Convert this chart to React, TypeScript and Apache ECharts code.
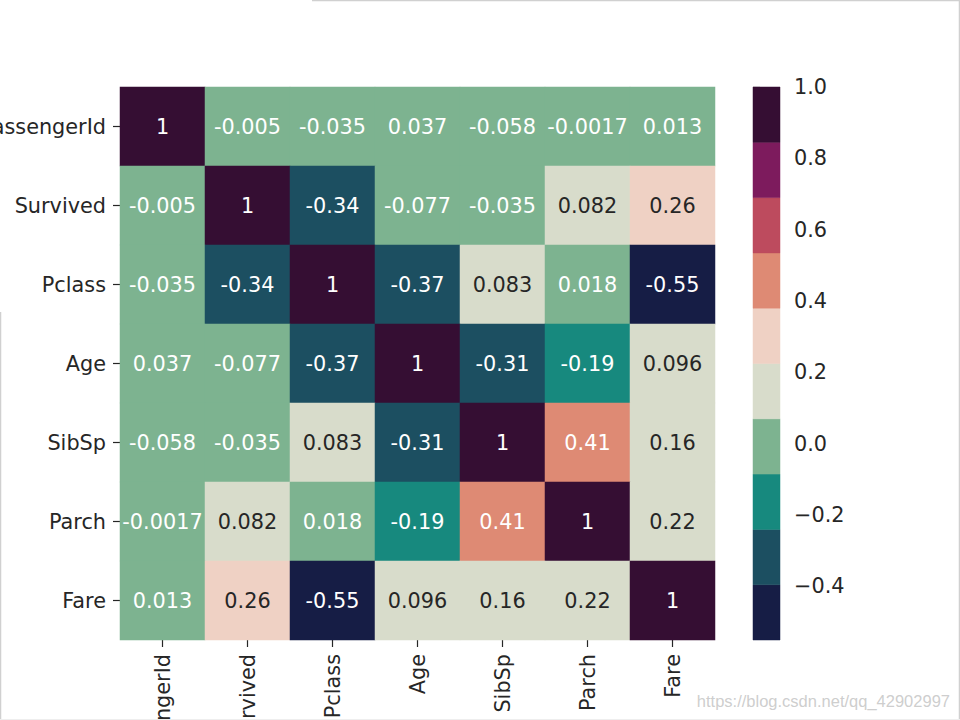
import React, { useEffect, useRef } from "react";
import * as echarts from "echarts";

const labels = ["PassengerId", "Survived", "Pclass", "Age", "SibSp", "Parch", "Fare"];

const rowPassengerId = [1, -0.005, -0.035, 0.037, -0.058, -0.0017, 0.013];
const rowSurvived = [-0.005, 1, -0.34, -0.077, -0.035, 0.082, 0.26];
const rowPclass = [-0.035, -0.34, 1, -0.37, 0.083, 0.018, -0.55];
const rowAge = [0.037, -0.077, -0.37, 1, -0.31, -0.19, 0.096];
const rowSibSp = [-0.058, -0.035, 0.083, -0.31, 1, 0.41, 0.16];
const rowParch = [-0.0017, 0.082, 0.018, -0.19, 0.41, 1, 0.22];
const rowFare = [0.013, 0.26, -0.55, 0.096, 0.16, 0.22, 1];

const matrix = [rowPassengerId, rowSurvived, rowPclass, rowAge, rowSibSp, rowParch, rowFare];

const colorbarMin = -0.55;
const colorbarMax = 1.0;
const binColors = [
  "#161d45",
  "#1c4f61",
  "#17897e",
  "#7db390",
  "#d8dccb",
  "#efd1c4",
  "#de8a74",
  "#bd4b5e",
  "#7d1b5d",
  "#350e33",
];
const darkTextBins = [4, 5];
const colorbarTicks = [-0.4, -0.2, 0.0, 0.2, 0.4, 0.6, 0.8, 1.0];
const watermark = "https://blog.csdn.net/qq_42902997";

const FONT = "DejaVu Sans";
const FS = 20.8;
const TEXT = "#262626";

export default function App() {
  const ref = useRef<HTMLDivElement>(null);

  useEffect(() => {
    if (!ref.current) return;
    const chart = echarts.init(ref.current, undefined, { renderer: "svg" });
    const n = binColors.length;
    const step = (colorbarMax - colorbarMin) / n;
    const edges = binColors.map((_, i) => colorbarMin + i * step);
    const binOf = (v: number) => {
      let k = Math.floor((v - colorbarMin) / step);
      if (k < 0) k = 0;
      if (k > n - 1) k = n - 1;
      return k;
    };

    const heatData: any[] = [];
    matrix.forEach((row, r) => {
      row.forEach((v, c) => {
        const b = binOf(v);
        heatData.push({
          value: [c, r, v, b],
          label: { color: darkTextBins.includes(b) ? TEXT : "#ffffff" },
        });
      });
    });

    const pieces = binColors.map((col, i) => ({ value: i, color: col }));

    const barData = binColors.map((col, i) => [edges[i], i === n - 1 ? colorbarMax : edges[i] + step, i]);

    chart.setOption({
      animation: false,
      backgroundColor: "#ffffff",
      textStyle: { fontFamily: FONT },
      grid: [
        { left: 120, top: 87, width: 595, height: 553, containLabel: false, outerBoundsMode: "none" },
        { left: 753, top: 87, width: 27, height: 553, containLabel: false, outerBoundsMode: "none" },
      ],
      visualMap: {
        type: "piecewise",
        show: false,
        seriesIndex: 0,
        dimension: 3,
        pieces,
      },
      xAxis: [
        {
          type: "category",
          gridIndex: 0,
          data: labels,
          position: "bottom",
          axisLine: { show: false },
          axisTick: { show: true, alignWithLabel: true, length: 7, lineStyle: { color: TEXT, width: 1.2 } },
          axisLabel: { rotate: 90, margin: 14, fontSize: FS, color: TEXT, fontFamily: FONT, interval: 0 },
          splitLine: { show: false },
        },
        { type: "value", gridIndex: 1, min: 0, max: 1, show: false },
      ],
      yAxis: [
        {
          type: "category",
          gridIndex: 0,
          data: labels,
          inverse: true,
          axisLine: { show: false },
          axisTick: { show: true, alignWithLabel: true, length: 7, lineStyle: { color: TEXT, width: 1.2 } },
          axisLabel: { margin: 14, fontSize: FS, color: TEXT, fontFamily: FONT, interval: 0 },
          splitLine: { show: false },
        },
        {
          type: "value",
          gridIndex: 1,
          min: colorbarMin,
          max: colorbarMax,
          position: "right",
          axisLine: { show: false },
          splitLine: { show: false },
          axisTick: {
            show: true,
            length: 7,
            customValues: colorbarTicks,
            lineStyle: { color: TEXT, width: 1.2 },
          },
          axisLabel: {
            customValues: colorbarTicks,
            margin: 14,
            fontSize: FS,
            color: TEXT,
            fontFamily: FONT,
            formatter: (v: number) => {
              const s = Math.abs(v).toFixed(1);
              return v < -1e-9 ? "\u2212" + s : s;
            },
          },
        },
      ],
      series: [
        {
          type: "heatmap",
          xAxisIndex: 0,
          yAxisIndex: 0,
          data: heatData,
          label: {
            show: true,
            fontSize: FS,
            fontFamily: FONT,
            formatter: (p: any) => String(p.value[2]),
          },
          itemStyle: { borderWidth: 0 },
          emphasis: { disabled: true },
        },
        {
          type: "custom",
          xAxisIndex: 1,
          yAxisIndex: 1,
          data: barData,
          renderItem: (params: any, api: any) => {
            const lo = api.value(0);
            const hi = api.value(1);
            const idx = api.value(2);
            const p1 = api.coord([0, hi]);
            const p2 = api.coord([1, lo]);
            return {
              type: "rect",
              shape: { x: p1[0], y: p1[1], width: p2[0] - p1[0], height: p2[1] - p1[1] },
              style: { fill: binColors[idx], stroke: binColors[idx], lineWidth: 0.5 },
            };
          },
          encode: { x: [], y: [0, 1] },
        },
      ],
      graphic: [
        { type: "line", shape: { x1: 312, y1: 0.5, x2: 960, y2: 0.5 }, style: { stroke: "#d0d0d0", lineWidth: 1.5 } },
        { type: "line", shape: { x1: 959.5, y1: 0, x2: 959.5, y2: 720 }, style: { stroke: "#d0d0d0", lineWidth: 1.5 } },
        { type: "line", shape: { x1: 0.5, y1: 312, x2: 0.5, y2: 720 }, style: { stroke: "#d0d0d0", lineWidth: 1.5 } },
        { type: "line", shape: { x1: 0, y1: 719.5, x2: 960, y2: 719.5 }, style: { stroke: "#eeeeee", lineWidth: 1 } },
        {
          type: "text",
          right: 10,
          top: 692,
          style: {
            text: watermark,
            fontSize: 16.5,
            fontFamily: "Liberation Sans",
            fill: "rgba(200,200,200,0.9)",
          },
        },
      ],
    });
    return () => chart.dispose();
  }, []);

  return (
    <div
      ref={ref}
      style={{ position: "fixed", left: 0, top: 0, width: 960, height: 720 }}
    />
  );
}
